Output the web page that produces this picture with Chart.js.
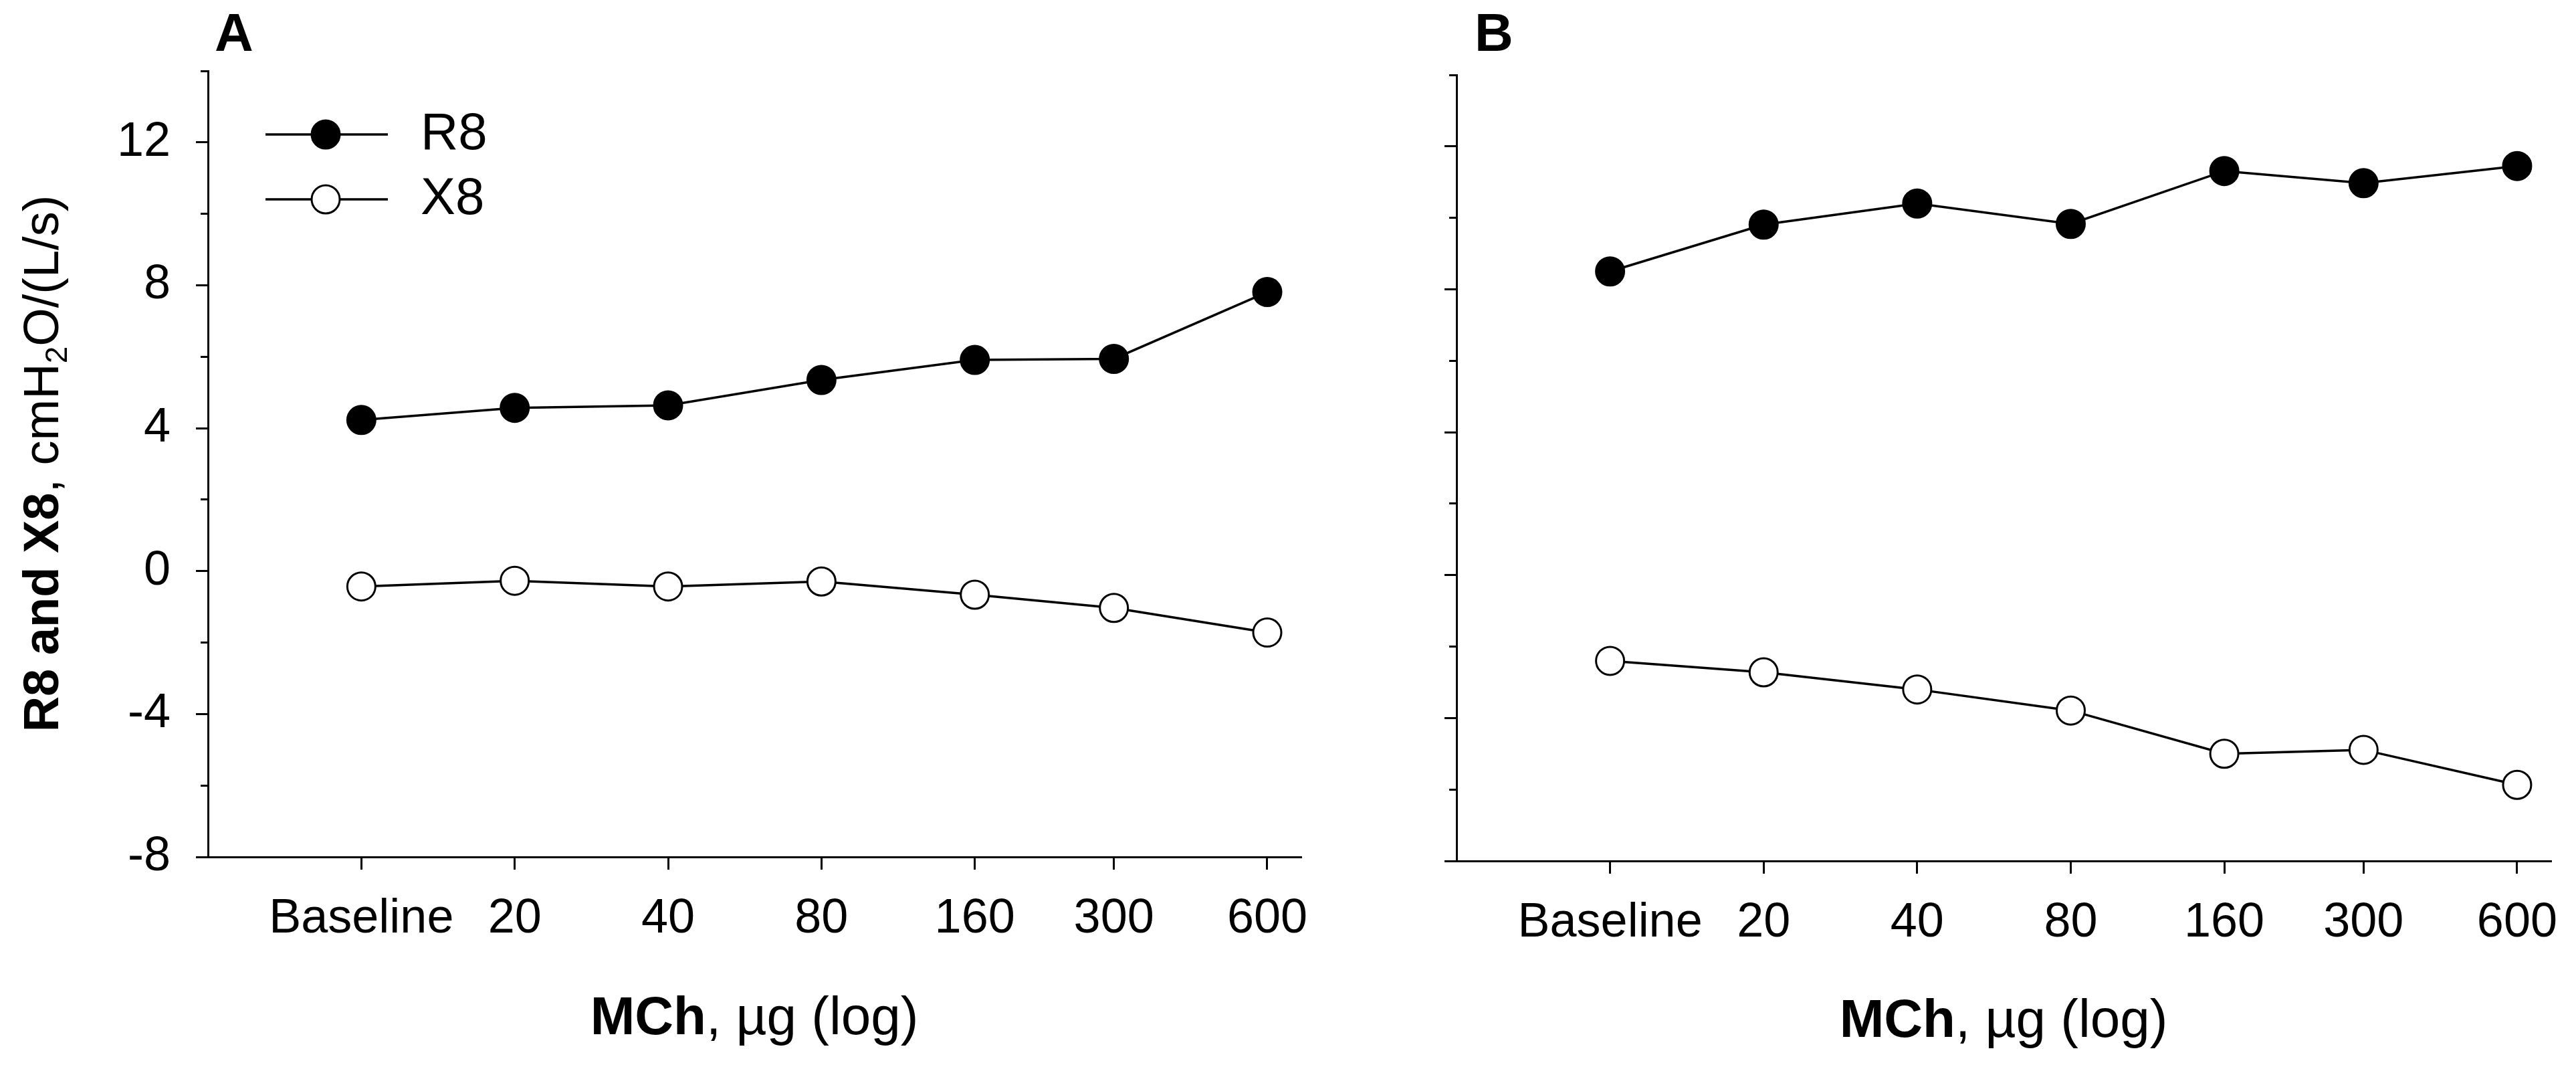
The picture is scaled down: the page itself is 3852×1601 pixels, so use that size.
<!DOCTYPE html>
<html>
<head>
<meta charset="utf-8">
<script src="https://cdn.jsdelivr.net/npm/chart.js@4.4.1/dist/chart.umd.min.js"></script>
<style>
  html, body { margin: 0; padding: 0; background: #fff; overflow: hidden; width: 3852px; height: 1601px; }
  .wrap { position: absolute; top: 0; }
  .txt { position: absolute; font-family: 'Liberation Sans', Arial, sans-serif; color: #000; line-height: 1; white-space: nowrap; }
  .b { font-weight: bold; }
  sub { font-size: 0.62em; vertical-align: -0.28em; line-height: 0; }
</style>
</head>
<body>
<div class="wrap" style="left:0;width:2000px;height:1601px;"><canvas id="cA" width="2000" height="1601" style="width:2000px;height:1601px;"></canvas></div>
<div class="wrap" style="left:2000px;width:1852px;height:1601px;"><canvas id="cB" width="1852" height="1601" style="width:1852px;height:1601px;"></canvas></div>

<div class="txt b" style="left:321px;top:9px;font-size:80px;">A</div>
<div class="txt b" style="left:2205px;top:9px;font-size:80px;">B</div>

<div class="txt" style="left:-538px;top:656px;width:1200px;text-align:center;font-size:74px;transform:rotate(-90deg);transform-origin:600px 37px;"><span class="b">R8 and X8</span>, cmH<sub>2</sub>O/(L/s)</div>

<div class="txt" style="left:528px;top:1479px;width:1200px;text-align:center;font-size:80px;"><span class="b">MCh</span>, µg (log)</div>
<div class="txt" style="left:2396px;top:1483px;width:1200px;text-align:center;font-size:80px;"><span class="b">MCh</span>, µg (log)</div>

<script>
// ---- data ----
const doses = [10, 20, 40, 80, 160, 300, 600];          // Baseline plotted at 10 on log axis
const doseLabels = ['Baseline', '20', '40', '80', '160', '300', '600'];
const seriesNames = ['R8', 'X8'];
const r8A = [4.23, 4.57, 4.64, 5.35, 5.91, 5.94, 7.81];
const x8A = [-0.43, -0.27, -0.43, -0.29, -0.66, -1.03, -1.72];
const r8B = [8.50, 9.81, 10.40, 9.83, 11.31, 10.97, 11.45];
const x8B = [-2.40, -2.72, -3.20, -3.79, -5.00, -4.89, -5.87];
const yMin = -8, yMax = 14, yStep = 2, yLabelEvery = 4;
const xMin = 5, xMax = 700;

Chart.defaults.font.family = "'Liberation Sans', Arial, sans-serif";
Chart.defaults.color = '#000';

function legendImg(fill) {
  const c = document.createElement('canvas');
  c.width = 260; c.height = 60;
  const g = c.getContext('2d');
  g.strokeStyle = '#000'; g.lineWidth = 3.5;
  g.beginPath(); g.moveTo(67, 30); g.lineTo(250, 30); g.stroke();
  g.beginPath(); g.arc(157, 30, 21, 0, Math.PI * 2);
  g.fillStyle = fill; g.fill(); g.lineWidth = 3; g.stroke();
  return c;
}

function makePanel(canvasId, r8, x8, cfg) {
  const pts = arr => doses.map((d, i) => ({ x: d, y: arr[i] }));
  const ds = [
    { label: seriesNames[0], data: pts(r8), showLine: true, borderColor: '#000', borderWidth: 3.5,
      pointRadius: 21, pointHoverRadius: 21, pointBorderWidth: 3, pointBackgroundColor: '#000', pointBorderColor: '#000' },
    { label: seriesNames[1], data: pts(x8), showLine: true, borderColor: '#000', borderWidth: 3.5,
      pointRadius: 21, pointHoverRadius: 21, pointBorderWidth: 3, pointBackgroundColor: '#fff', pointBorderColor: '#000' }
  ];
  const fills = ['#000', '#fff'];
  return new Chart(document.getElementById(canvasId), {
    type: 'scatter',
    data: { datasets: ds },
    options: {
      responsive: false, animation: false, devicePixelRatio: 1,
      layout: { padding: { top: cfg.top, right: cfg.padRight, left: 0, bottom: 0 } },
      plugins: {
        tooltip: { enabled: false },
        legend: {
          display: cfg.legend,
          position: 'chartArea', align: 'start',
          title: { display: true, text: ' ', font: { size: 10 }, padding: { top: 131, bottom: 0 } },
          labels: {
            usePointStyle: true, pointStyleWidth: 260, padding: 19,
            font: { size: 78 }, color: '#000',
            generateLabels: chart => chart.data.datasets.map((d, i) => ({
              text: d.label, pointStyle: legendImg(fills[i]), fillStyle: fills[i],
              strokeStyle: '#000', lineWidth: 0, hidden: false, datasetIndex: i, fontColor: '#000'
            }))
          },
          onClick: null
        }
      },
      scales: {
        x: {
          type: 'logarithmic', min: xMin, max: xMax,
          afterBuildTicks: s => { s.ticks = doses.map(v => ({ value: v })); },
          afterFit: s => { s.height = 1601 - cfg.bottom; s.paddingLeft = 0; s.paddingRight = 0; },
          border: { display: true, color: '#000', width: 3 },
          grid: { display: true, drawOnChartArea: false, drawTicks: true, tickLength: 19, tickWidth: 3, tickColor: '#000' },
          ticks: {
            autoSkip: false, maxRotation: 0, minRotation: 0, padding: 31,
            font: { size: 72 }, color: '#000',
            callback: v => { const i = doses.indexOf(v); return i >= 0 ? doseLabels[i] : ''; }
          }
        },
        y: {
          type: 'linear', min: yMin, max: yMax,
          afterFit: s => { s.width = cfg.yWidth; s.paddingTop = 0; s.paddingBottom = 0; },
          border: { display: true, color: '#000', width: 3 },
          grid: {
            display: true, drawOnChartArea: false, drawTicks: true, tickLength: 18, tickWidth: 3, tickColor: '#000',
            tickBorderDash: ctx => (ctx.tick && ctx.tick.value % yLabelEvery === 0) ? [] : [0, 7, 40, 0]
          },
          ticks: {
            stepSize: yStep, autoSkip: false, padding: 38,
            font: { size: 72 }, color: '#000',
            callback: v => (cfg.yLabels && v % yLabelEvery === 0) ? String(v) : ''
          }
        }
      }
    }
  });
}

makePanel('cA', r8A, x8A, { yWidth: 311, padRight: 54, top: 106, bottom: 1281, legend: true, yLabels: true });
makePanel('cB', r8B, x8B, { yWidth: 178, padRight: 37, top: 112, bottom: 1287, legend: false, yLabels: false });
</script>
</body>
</html>
